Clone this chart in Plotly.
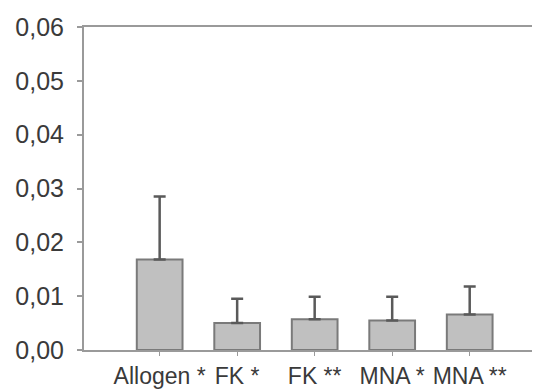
import plotly.graph_objects as go

categories = ["Allogen *", "FK *", "FK **", "MNA *", "MNA **"]
means = [0.0168, 0.0050, 0.0057, 0.0055, 0.0066]
errors = [0.0117, 0.0045, 0.0042, 0.0044, 0.0052]
y_tickvals = [0.00, 0.01, 0.02, 0.03, 0.04, 0.05, 0.06]
y_ticktext = ["0,00", "0,01", "0,02", "0,03", "0,04", "0,05", "0,06"]

fig = go.Figure()
fig.add_trace(go.Bar(
    x=categories,
    y=means,
    width=0.59,
    marker=dict(color="#c0c0c0", line=dict(color="#7a7a7a", width=2)),
    error_y=dict(type="data", array=errors, symmetric=False, arrayminus=[0]*len(errors),
                 color="#5a5a5a", thickness=2.5, width=6, visible=True),
))

fig.update_layout(
    width=532, height=382,
    margin=dict(l=76, r=0, t=19, b=40),
    plot_bgcolor="white", paper_bgcolor="white",
    showlegend=False,
    font=dict(family="Liberation Sans, Arial, sans-serif", color="#3a3a3a"),
    xaxis=dict(
        type="category",
        range=[-0.976, 4.907],
        showline=True, linecolor="#9a9a9a", linewidth=2, mirror=True,
        ticks="outside", ticklen=4, tickcolor="#9a9a9a", tickwidth=1,
        tickfont=dict(size=23),
        showgrid=False, zeroline=False,
    ),
    yaxis=dict(
        range=[0, 0.06],
        tickvals=y_tickvals, ticktext=y_ticktext,
        showline=True, linecolor="#9a9a9a", linewidth=2, mirror=False,
        ticks="outside", ticklen=5, tickcolor="#9a9a9a", tickwidth=1.5,
        tickfont=dict(size=25),
        showgrid=False, zeroline=False,
        ticklabelstandoff=8,
    ),
)

fig.write_html("out.html")
